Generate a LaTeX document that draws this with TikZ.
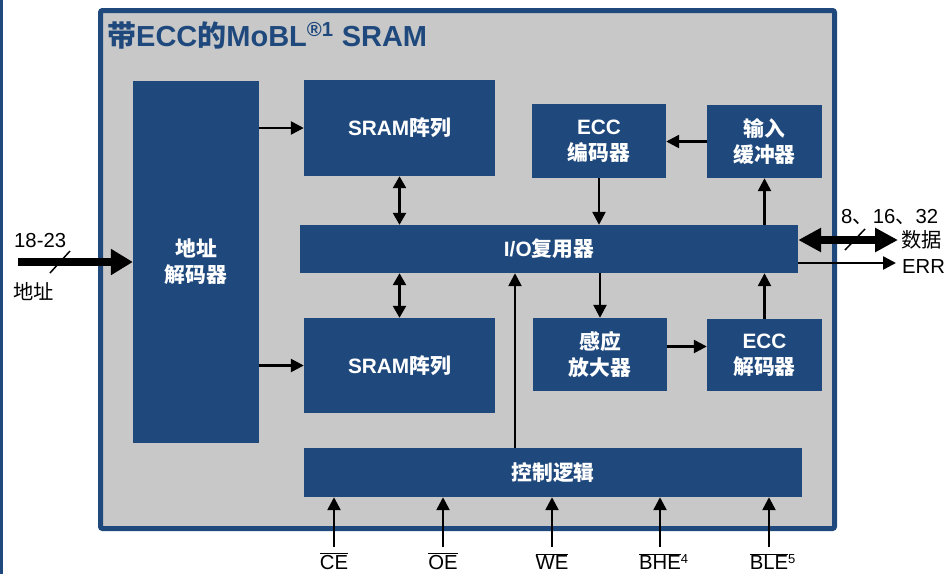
\documentclass[tikz,border=0pt]{standalone}
\usepackage{fontspec}
\setmainfont{Liberation Sans}
\newfontfamily\cjk{Noto Sans CJK SC}
\usetikzlibrary{arrows.meta}
\definecolor{mobl}{HTML}{1F497D}
\definecolor{chip}{HTML}{C8C8C8}
\tikzset{
  blk/.style={fill=mobl, text=white, inner sep=0pt, align=center,
    font=\fontsize{20.8}{26}\selectfont\bfseries},
  sig/.style={line width=2.5pt, -{Triangle[width=13pt,length=13pt]}},
  sigs/.style={line width=2.5pt, {Triangle[width=13pt,length=12pt]}-{Triangle[width=13pt,length=12pt]}},
  bus/.style={line width=8pt, -{Triangle[width=25pt,length=22pt]}},
  dbus/.style={line width=8pt, {Triangle[width=23pt,length=23pt]}-{Triangle[width=23pt,length=23pt]}},
  lbl/.style={font=\fontsize{20.3}{22}\selectfont, inner sep=0pt},
}
\begin{document}
\begin{tikzpicture}[x=1pt,y=-1pt]
  \useasboundingbox (0,0) rectangle (946,574);
  \clip (0,0) rectangle (946,574);

  % edge of the page and chip outline
  \draw[mobl, line width=3pt] (1.5,0) -- (1.5,574);
  \draw[draw=mobl, line width=5pt, fill=chip, rounded corners=2pt] (100.5,10.5) rectangle (834.5,528.5);
  \node[anchor=base west, inner sep=0pt, text=mobl, font=\fontsize{29}{30}\selectfont\bfseries]
    (title) at (107,46) {{\cjk 带}ECC{\cjk 的}MoBL\textsuperscript{®1} SRAM};

  % blocks
  \node[blk, minimum width=126pt, minimum height=362pt] (dec) at (196,262) {{\cjk 地址}\\{\cjk 解码器}};
  \node[blk, minimum width=191pt, minimum height=96pt] (arrA) at (399.5,128) {SRAM{\cjk 阵列}};
  \node[blk, minimum width=191pt, minimum height=95pt] (arrB) at (399.5,365.5) {SRAM{\cjk 阵列}};
  \node[blk, minimum width=134pt, minimum height=74pt] (enc) at (599,141) {ECC\\{\cjk 编码器}};
  \node[blk, minimum width=115pt, minimum height=73pt] (inbuf) at (764.5,141.5) {{\cjk 输入}\\{\cjk 缓冲器}};
  \node[blk, minimum width=498pt, minimum height=48pt] (mux) at (549,249) {I/O{\cjk 复用器}};
  \node[blk, minimum width=134pt, minimum height=73pt] (sense) at (600,354.5) {{\cjk 感应}\\{\cjk 放大器}};
  \node[blk, minimum width=115pt, minimum height=72pt] (ecdec) at (764.5,355) {ECC\\{\cjk 解码器}};
  \node[blk, minimum width=498pt, minimum height=49pt] (ctrl) at (553,472.5) {\cjk 控制逻辑};

  % internal connections
  \draw[sig] (dec.east |- arrA) -- (arrA.west);
  \draw[sig] (dec.east |- arrB) -- (arrB.west);
  \draw[sigs] (arrA.south) -- (arrA.south |- mux.north);
  \draw[sigs] (arrB.north |- mux.south) -- (arrB.north);
  \draw[sig] (inbuf.west) -- (inbuf.west -| enc.east);
  \draw[sig] (enc.south) -- (enc.south |- mux.north);
  \draw[sig] (inbuf.south |- mux.north) -- (inbuf.south);
  \draw[sig] (sense.north |- mux.south) -- (sense.north);
  \draw[sig] ([yshift=8pt]sense.east) -- ([yshift=8pt]sense.east -| ecdec.west);
  \draw[sig] (ecdec.north) -- (ecdec.north |- mux.south);
  \draw[sig] ([xshift=-38pt]ctrl.north) -- ([xshift=-38pt]ctrl.north |- mux.south);

  % address bus
  \coordinate (ain) at (18,262);
  \draw[bus] (ain) -- (ain -| dec.west);
  \draw[line width=1.5pt] (50,273) -- (70,251);
  \node[lbl, anchor=base west] (abits) at (14,247) {18-23};
  \node[lbl, anchor=west] (aname) at (13,292) {\cjk 地址};

  % data bus and error flag
  \coordinate (dout) at (898,240);
  \draw[dbus] (mux.east |- dout) -- (dout);
  \draw[line width=1.5pt] (845,250) -- (865,229);
  \node[lbl, anchor=base west] (dbits) at (841,223) {8{\cjk 、}16{\cjk 、}32};
  \node[lbl, anchor=west] (dname) at (901,240) {\cjk 数据};
  \coordinate (eout) at (896,263);
  \draw[sig] (mux.east |- eout) -- (eout);
  \node[lbl, anchor=base west] (err) at (902,273) {ERR};

  % control inputs
  \foreach \nm/\dx/\txt/\nt in {ce/-219/CE/, oe/-110/OE/, we/-1/WE/, bhe/107/BHE/4, ble/216/BLE/5} {
    \coordinate (\nm) at ([shift={(\dx,50)}]ctrl.south);
    \draw[sig] (\nm) -- (\nm |- ctrl.south);
    \node[lbl, anchor=base] (\nm t) at ([shift={(\dx,72)}]ctrl.south)
      {$\overline{\hbox{\txt}}$\rlap{\fontsize{13}{14}\selectfont\raisebox{6pt}{\nt}}};
  }
\end{tikzpicture}
\end{document}
